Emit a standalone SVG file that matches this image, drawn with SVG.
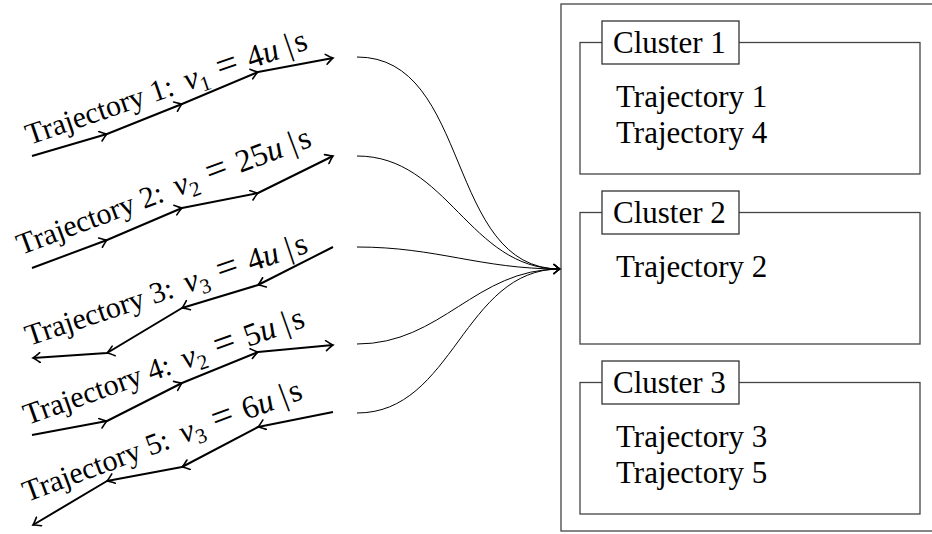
<svg xmlns="http://www.w3.org/2000/svg" width="932" height="534" viewBox="0 0 932 534">
<style>
  text { font-family: "Liberation Serif", "DejaVu Serif", "Times New Roman", serif; fill: #000; }
  .lbl { font-size: 30px; }
  .m { font-style: italic; font-size: 32px; }
  .n { font-size: 32px; }
  .eq { font-size: 38px; }
  .sub { font-size: 21px; }
  .traj { fill: none; stroke: #000; stroke-width: 2; stroke-linejoin: round; marker-mid: url(#ah); marker-end: url(#ah); }
  .conn { fill: none; stroke: #000; stroke-width: 1; }
  .box { fill: none; stroke: #444; stroke-width: 1.3; }
  .tag { fill: #fff; stroke: #333; stroke-width: 1.3; }
  .ct { font-size: 31px; }
</style>
<defs>
  <marker id="ah" viewBox="-10 -6 12 12" refX="0" refY="0" markerWidth="12" markerHeight="12" markerUnits="userSpaceOnUse" orient="auto">
    <path d="M -7 -5 Q -2 -1 0 0 Q -2 1 -7 5" fill="none" stroke="#000" stroke-width="1.6" stroke-linecap="round"/>
  </marker>
  <marker id="ah2" viewBox="-10 -6 12 12" refX="0" refY="0" markerWidth="12" markerHeight="12" markerUnits="userSpaceOnUse" orient="auto">
    <path d="M -6 -4.5 Q -2 -1 0 0 Q -2 1 -6 4.5" fill="none" stroke="#000" stroke-width="1.3" stroke-linecap="round"/>
  </marker>
</defs>
<rect width="932" height="534" fill="#fff"/>

<g id="trajectory1">
  <polyline class="traj" points="32,156 107,134 182,104 258,72 333,58"/>
  <text class="lbl" transform="translate(29.5,145) rotate(-19)">Trajectory 1:<tspan class="m" x="167">v</tspan><tspan class="sub" dy="6">1</tspan><tspan class="eq" x="202" dy="-6">=</tspan><tspan class="n" x="234">4</tspan><tspan class="m">u</tspan><tspan class="n" dx="8">|</tspan><tspan class="n" dx="3">s</tspan></text>
</g>
<g id="trajectory2">
  <polyline class="traj" points="32,268 107,240 182,208 258,193 333,156"/>
  <text class="lbl" transform="translate(21,255) rotate(-20.5)">Trajectory 2:<tspan class="m" x="167">v</tspan><tspan class="sub" dy="6">2</tspan><tspan class="eq" x="202" dy="-6">=</tspan><tspan class="n" x="234">25</tspan><tspan class="m">u</tspan><tspan class="n" dx="8">|</tspan><tspan class="n" dx="3">s</tspan></text>
</g>
<g id="trajectory3">
  <polyline class="traj" points="333,247 258,285 182,308 107,353 33,358"/>
  <text class="lbl" transform="translate(29,346) rotate(-18.5)">Trajectory 3:<tspan class="m" x="167">v</tspan><tspan class="sub" dy="6">3</tspan><tspan class="eq" x="202" dy="-6">=</tspan><tspan class="n" x="234">4</tspan><tspan class="m">u</tspan><tspan class="n" dx="8">|</tspan><tspan class="n" dx="3">s</tspan></text>
</g>
<g id="trajectory4">
  <polyline class="traj" points="32,435 107,421 182,383 258,352 333,345"/>
  <text class="lbl" transform="translate(27.5,425) rotate(-19.5)">Trajectory 4:<tspan class="m" x="167">v</tspan><tspan class="sub" dy="6">2</tspan><tspan class="eq" x="202" dy="-6">=</tspan><tspan class="n" x="234">5</tspan><tspan class="m">u</tspan><tspan class="n" dx="8">|</tspan><tspan class="n" dx="3">s</tspan></text>
</g>
<g id="trajectory5">
  <polyline class="traj" points="333,412 258,427 182,467 107,481 33,525"/>
  <text class="lbl" transform="translate(27,502) rotate(-20.5)">Trajectory 5:<tspan class="m" x="167">v</tspan><tspan class="sub" dy="6">3</tspan><tspan class="eq" x="202" dy="-6">=</tspan><tspan class="n" x="234">6</tspan><tspan class="m">u</tspan><tspan class="n" dx="8">|</tspan><tspan class="n" dx="3">s</tspan></text>
</g>

<g id="connectors">
  <path class="conn" d="M 357 57 C 472 57 445 269 560 269" marker-end="url(#ah2)"/>
  <path class="conn" d="M 357 156 C 448 156 469 269 560 269" marker-end="url(#ah2)"/>
  <path class="conn" d="M 357 247 C 437 247 480 269 560 269" marker-end="url(#ah2)"/>
  <path class="conn" d="M 357 344 C 442 344 475 269 560 269" marker-end="url(#ah2)"/>
  <path class="conn" d="M 357 413 C 454 413 463 269 560 269" marker-end="url(#ah2)"/>
</g>

<g id="clusters">
  <rect class="box" x="561" y="4" width="390" height="527"/>
</g>
<g id="cluster1">
  <rect class="box" x="580" y="42.5" width="340" height="131.5"/>
  <rect class="tag" x="602" y="21" width="137" height="43"/>
  <text class="ct" x="613" y="53">Cluster 1</text>
  <text class="ct" x="616" y="107">Trajectory 1</text>
  <text class="ct" x="616" y="143">Trajectory 4</text>
</g>
<g id="cluster2">
  <rect class="box" x="580" y="212.5" width="340" height="131.5"/>
  <rect class="tag" x="602" y="191" width="137" height="43"/>
  <text class="ct" x="613" y="223">Cluster 2</text>
  <text class="ct" x="616" y="277">Trajectory 2</text>
</g>
<g id="cluster3">
  <rect class="box" x="580" y="382.5" width="340" height="131.5"/>
  <rect class="tag" x="602" y="361" width="137" height="43"/>
  <text class="ct" x="613" y="393">Cluster 3</text>
  <text class="ct" x="616" y="447">Trajectory 3</text>
  <text class="ct" x="616" y="483">Trajectory 5</text>
</g>
</svg>
